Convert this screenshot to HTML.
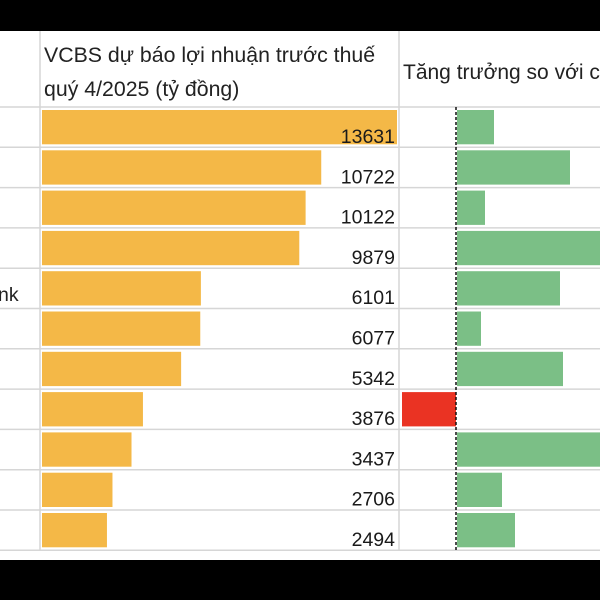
<!DOCTYPE html>
<html><head><meta charset="utf-8"><style>
html,body{margin:0;padding:0;background:#000;}
svg{display:block;font-family:"Liberation Sans",sans-serif;}
</style></head><body>
<svg id="chart" width="600" height="600" viewBox="0 0 600 600">
<rect x="0" y="0" width="600" height="600" fill="#000"/>
<rect x="0" y="31" width="600" height="529" fill="#fff"/>
<g id="grid"></g>
<text x="44" y="62" font-size="21.3" fill="#222">VCBS dự báo lợi nhuận trước thuế</text>
<text x="44" y="96" font-size="21.3" fill="#222">quý 4/2025 (tỷ đồng)</text>
<text x="403" y="79" font-size="21" fill="#222">Tăng trưởng so với c</text>
<text x="-2" y="301" font-size="19.5" fill="#222">nk</text>
<g id="bars"></g>
</svg>
<script>
const profits=[13631,10722,10122,9879,6101,6077,5342,3876,3437,2706,2494];
const growth=[37,113,28,160,103,24,106,-54,160,45,58];
const svg=document.getElementById('chart');
const grid=document.getElementById('grid');
const bars=document.getElementById('bars');
const NS='http://www.w3.org/2000/svg';
const rowTop=107, rowH=40.3;
const xP=v=>42+v*(355/13631);
const x0=456;
const xG=v=>x0+v*1;
function mk(tag,attrs){const e=document.createElementNS(NS,tag);for(const k in attrs)e.setAttribute(k,attrs[k]);return e;}
for(let i=0;i<=profits.length;i++){
  const y=rowTop+i*rowH;
  const l=mk('line',{x1:0,x2:600,y1:y,y2:y,stroke:'#d6d6d6','stroke-width':1.5});
  
  
  grid.appendChild(l);
}
[40,399].forEach(x=>{
  const l=mk('line',{x1:x,x2:x,y1:31,y2:rowTop+profits.length*rowH,stroke:'#d6d6d6','stroke-width':1.5});
  
  
  grid.appendChild(l);
});
profits.forEach((v,i)=>{
  const y=rowTop+i*rowH;
  const r=mk('rect',{x:42,y:y+3,width:xP(v)-42,height:rowH-6,fill:'#f4b847'});
  
  
  bars.appendChild(r);
  const t=mk('text',{x:395,y:y+36,'font-size':19.5,'text-anchor':'end',fill:'#1a1a1a'});
  t.textContent=v;
  
  
  bars.appendChild(t);
  const g=growth[i];
  const gx=Math.min(xG(0),xG(g)), gw=Math.abs(xG(g)-xG(0));
  const gr=mk('rect',{x:g>=0?gx+1:gx,y:y+3,width:gw,height:rowH-6,fill:g>=0?'#7bbf86':'#ea3323'});
  
  
  bars.appendChild(gr);
});
const z=mk('line',{x1:x0,x2:x0,y1:rowTop,y2:rowTop+profits.length*rowH,stroke:'#111','stroke-width':1.5,'stroke-dasharray':'3,2'});


bars.appendChild(z);
</script>
</body></html>
